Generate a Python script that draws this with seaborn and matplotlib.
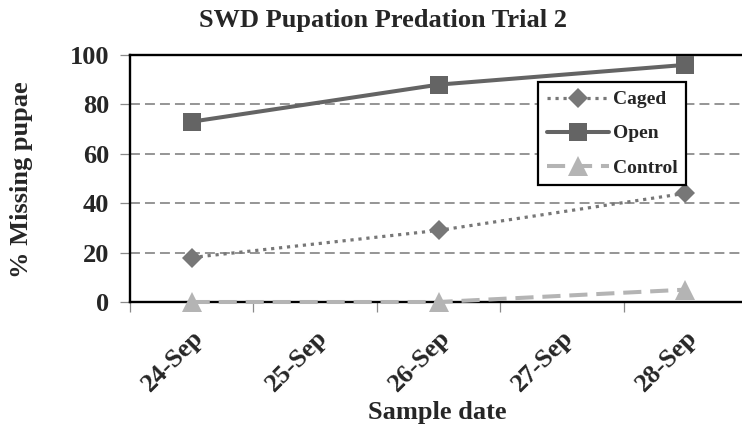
import matplotlib
matplotlib.use("Agg")
import matplotlib.pyplot as plt
from matplotlib.ticker import FixedLocator
import seaborn as sns
import pandas as pd

# Sample dates on the axis and the days that were actually sampled
dates = ["24-Sep", "25-Sep", "26-Sep", "27-Sep", "28-Sep"]
sampled = ["24-Sep", "26-Sep", "28-Sep"]

caged = [18, 29, 44]
open_ = [73, 88, 96]
control = [0, 0, 5]

yticks = [0, 20, 40, 60, 80, 100]

sns.set_theme(style="white")
plt.rcParams["font.family"] = ["Liberation Serif", "DejaVu Serif"]
plt.rcParams["font.weight"] = "bold"

pos = {d: i for i, d in enumerate(dates)}
rows = []
for name, vals in (("Caged", caged), ("Open", open_), ("Control", control)):
    for d, v in zip(sampled, vals):
        rows.append({"date": d, "x": pos[d], "pct": v, "treatment": name})
df = pd.DataFrame(rows)

W, H = 742, 432
fig = plt.figure(figsize=(W / 100, H / 100), dpi=100)
# plot area runs slightly past the right edge of the canvas
ax = fig.add_axes([130 / W, 1 - 302 / H, 617 / W, 247 / H])

styles = {
    "Caged": dict(color="#777777", linestyle=(0, (1, 1.5)), marker="D", markersize=10, linewidth=2.3),
    "Open": dict(color="#646464", linestyle="-", marker="s", markersize=12.5, linewidth=2.9),
    "Control": dict(color="#b4b4b4", linestyle=(0, (4.5, 2.2)), marker="^", markersize=14, linewidth=2.9),
}
for name in ["Caged", "Open", "Control"]:
    sub = df[df["treatment"] == name]
    st = styles[name]
    sns.lineplot(data=sub, x="x", y="pct", ax=ax, label=name, color=st["color"],
                 linestyle=st["linestyle"], linewidth=st["linewidth"], marker=st["marker"],
                 markersize=st["markersize"], markeredgewidth=0, zorder=3, clip_on=False)

ax.set_xlim(-0.5, len(dates) - 0.5)
ax.set_ylim(0, 100)
ax.set_yticks(yticks)
ax.set_yticklabels([str(v) for v in yticks], fontsize=19, fontweight="bold")

# boundary tick marks between dates, labels centred on each date
ax.xaxis.set_major_locator(FixedLocator(range(len(dates))))
ax.set_xticklabels(dates, rotation=45, ha="right", va="top", rotation_mode="anchor",
                   fontsize=19, fontweight="bold")
ax.xaxis.set_minor_locator(FixedLocator([i - 0.5 for i in range(len(dates) + 1)]))
ax.tick_params(axis="x", which="major", length=0, pad=17)
ax.tick_params(axis="x", which="minor", length=7, width=0.9, color="#8a8a8a", direction="out", bottom=True)
ax.tick_params(axis="y", length=7, width=0.9, color="#8a8a8a", direction="out", left=True, pad=8)

for y in yticks[1:-1]:
    ax.axhline(y, color="#8c8c8c", linestyle=(0, (5.5, 2.8)), linewidth=1.3, zorder=1)

for side in ["left", "bottom", "top"]:
    ax.spines[side].set_visible(True)
    ax.spines[side].set_color("black")
    ax.spines[side].set_linewidth(1.7)
ax.spines["right"].set_visible(False)

ax.set_xlabel("Sample date", fontsize=19, fontweight="bold")
ax.xaxis.set_label_coords((437 - 130) / 617, (302 - 412) / 247)
ax.xaxis.label.set_va("center")
ax.set_ylabel("% Missing pupae", fontsize=19, fontweight="bold")
ax.yaxis.set_label_coords((22 - 130) / 617, (302 - 180) / 247)
ax.yaxis.label.set_va("center")

leg = ax.legend(loc="upper left", bbox_to_anchor=((538 - 130) / 617, (302 - 82) / 247),
                borderaxespad=0, frameon=True, fancybox=False,
                edgecolor="black", framealpha=1, prop={"weight": "bold", "size": 14},
                handlelength=3.2, borderpad=0.45, labelspacing=0.85, handletextpad=0.2)
leg.get_frame().set_linewidth(1.6)
leg.set_zorder(5)

fig.text(383 / W, 1 - 21 / H, "SWD Pupation Predation Trial 2", ha="center", va="center",
         fontsize=19, fontweight="bold")

fig.savefig("out.png", dpi=100)
